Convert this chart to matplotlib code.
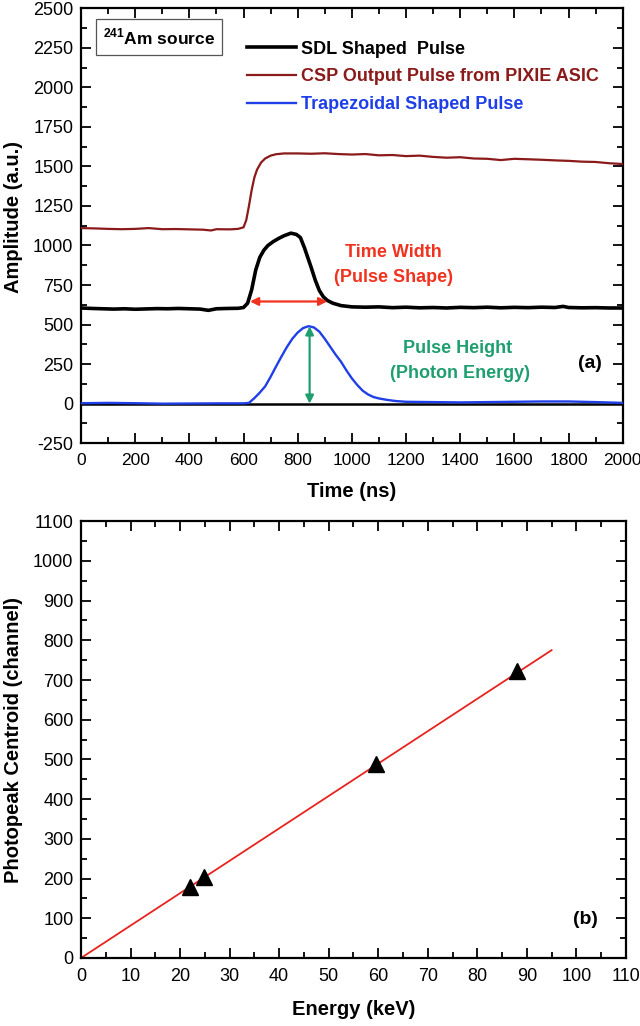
import numpy as np
import matplotlib
matplotlib.use("Agg")
import matplotlib.pyplot as plt
from matplotlib.lines import Line2D
from matplotlib.ticker import MultipleLocator

plt.rcParams["font.family"] = ["Liberation Sans", "DejaVu Sans"]
plt.rcParams["mathtext.fontset"] = "custom"
plt.rcParams["mathtext.rm"] = "Liberation Sans"
plt.rcParams["mathtext.bf"] = "Liberation Sans:bold"
plt.rcParams["axes.unicode_minus"] = False

# ~~~ panel (a): pulse traces ~~~
t_sdl = [0, 40, 80, 120, 160, 200, 240, 280, 320, 360, 400, 440, 470, 500, 540, 580,
         600, 615, 630, 645, 660, 675, 690, 710, 730, 750, 775, 795, 810, 825, 840, 850,
         865, 880, 895, 910, 930, 960, 1000, 1050, 1100, 1150, 1200, 1250, 1300, 1350,
         1400, 1450, 1500, 1550, 1600, 1650, 1700, 1750, 1780, 1800, 1850, 1900, 1950, 2000]
sdl = [605, 602, 600, 598, 600, 597, 599, 601, 600, 602, 600, 598, 590, 600, 602, 603,
       608, 635, 720, 845, 925, 970, 1000, 1025, 1045, 1062, 1078, 1070, 1050, 985, 910, 860,
       780, 715, 675, 652, 635, 620, 612, 610, 612, 607, 610, 606, 608, 605,
       609, 607, 610, 606, 609, 607, 610, 608, 615, 608, 606, 607, 605, 605]

t_csp = [0, 50, 100, 150, 200, 250, 300, 350, 400, 450, 480, 500, 550, 580, 600, 610,
         620, 630, 640, 650, 665, 680, 700, 720, 750, 800, 850, 900, 950, 1000, 1050,
         1100, 1150, 1200, 1250, 1300, 1350, 1400, 1450, 1500, 1550, 1600, 1650, 1700,
         1750, 1800, 1850, 1900, 1950, 2000]
csp = [1110, 1108, 1105, 1103, 1105, 1110, 1103, 1104, 1102, 1100, 1095, 1103, 1102, 1105, 1115, 1160,
       1250, 1350, 1430, 1480, 1525, 1550, 1568, 1577, 1582, 1582, 1580, 1583, 1578, 1575, 1578,
       1570, 1572, 1565, 1568, 1560, 1555, 1558, 1550, 1548, 1540, 1548, 1545, 1542,
       1538, 1535, 1530, 1528, 1520, 1515]

t_trap = [0, 100, 200, 300, 400, 500, 600, 620, 640, 660, 680, 700, 720, 740, 760, 780,
          800, 820, 840, 860, 880, 900, 920, 940, 960, 980, 1000, 1020, 1040, 1060, 1080,
          1100, 1130, 1160, 1200, 1300, 1400, 1500, 1600, 1700, 1800, 1900, 2000]
trap = [3, 5, 3, 0, 1, 2, 2, 5, 35, 70, 110, 170, 235, 298, 358, 410,
        450, 478, 490, 482, 455, 410, 360, 310, 265, 210, 160, 118, 82, 58, 42,
        33, 24, 17, 12, 10, 8, 10, 12, 14, 14, 10, 5]

width_span = [624, 909]     # ns, time-width arrow
width_level = 646
height_time = 844           # ns, pulse-height arrow
height_peak = 489

# ~~~ panel (b): energy calibration ~~~
energy = [22.0, 24.9, 59.5, 88.0]
centroid = [180, 205, 488, 722]
fit_slope = 8.16
fit_intercept = 0.0
fit_range = [0, 95]

dark_red = "#8b1a1a"
blue = "#1f3fe8"
arrow_red = "#f0321e"
green = "#1f9e70"

fig = plt.figure(figsize=(6.4, 10.26), dpi=100)
ax1 = fig.add_axes([0.1266, 0.568, 0.8464, 0.424])
ax2 = fig.add_axes([0.1266, 0.0663, 0.8514, 0.4257])


def style_axes(ax):
    for spine in ax.spines.values():
        spine.set_linewidth(1.6)
    ax.tick_params(which="both", direction="in", top=True, right=True,
                   labelsize=13, width=1.3)
    ax.tick_params(which="major", length=7)
    ax.tick_params(which="minor", length=4)
    ax.tick_params(axis="x", pad=7)
    ax.tick_params(axis="y", pad=5.5)


# fig a
ax1.axhline(0, color="black", lw=1.8, zorder=1)
ax1.plot(t_csp, csp, color=dark_red, lw=1.6, zorder=3)
ax1.plot(t_sdl, sdl, color="black", lw=2.6, zorder=4)
ax1.plot(t_trap, trap, color=blue, lw=1.7, zorder=3)

ax1.annotate("", xy=(width_span[0], width_level), xytext=(width_span[1], width_level),
             arrowprops=dict(arrowstyle="<|-|>", color=arrow_red, lw=1.6,
                             mutation_scale=12, shrinkA=0, shrinkB=0), zorder=5)
ax1.annotate("", xy=(height_time, 0), xytext=(height_time, height_peak),
             arrowprops=dict(arrowstyle="<|-|>", color=green, lw=1.6,
                             mutation_scale=12, shrinkA=0, shrinkB=0), zorder=5)

ax1.text(1155, 956, "Time Width", color=arrow_red, fontsize=13, fontweight="bold",
         ha="center", va="center")
ax1.text(1155, 797, "(Pulse Shape)", color=arrow_red, fontsize=13, fontweight="bold",
         ha="center", va="center")
ax1.text(1390, 348, "Pulse Height", color=green, fontsize=13, fontweight="bold",
         ha="center", va="center")
ax1.text(1400, 190, "(Photon Energy)", color=green, fontsize=13, fontweight="bold",
         ha="center", va="center")
ax1.text(1880, 253, "(a)", fontsize=14, fontweight="bold", ha="center", va="center")

ax1.text(0.144, 0.934, r"$^{\mathbf{241}}$Am source", transform=ax1.transAxes,
         fontsize=12.5, fontweight="bold", ha="center", va="center",
         bbox=dict(boxstyle="square,pad=0.42", fc="white", ec="#555555", lw=0.9))

handles = [Line2D([], [], color="black", lw=2.6),
           Line2D([], [], color=dark_red, lw=1.6),
           Line2D([], [], color=blue, lw=1.7)]
labels = ["SDL Shaped  Pulse", "CSP Output Pulse from PIXIE ASIC", "Trapezoidal Shaped Pulse"]
leg = ax1.legend(handles, labels, loc="upper left", bbox_to_anchor=(0.276, 0.963),
                 frameon=False, handlelength=2.7, handletextpad=0.33, labelspacing=0.6,
                 prop={"weight": "bold", "size": 13})
for txt, c in zip(leg.get_texts(), ["black", dark_red, blue]):
    txt.set_color(c)

ax1.set_xlim(0, 2000)
ax1.set_ylim(-250, 2500)
ax1.xaxis.set_major_locator(MultipleLocator(200))
ax1.xaxis.set_minor_locator(MultipleLocator(100))
ax1.yaxis.set_major_locator(MultipleLocator(250))
ax1.yaxis.set_minor_locator(MultipleLocator(125))
style_axes(ax1)
ax1.tick_params(axis="x", labelsize=12.5)
ax1.set_xlabel("Time (ns)", fontsize=14.5, fontweight="bold", labelpad=10)
ax1.set_ylabel("Amplitude (a.u.)", fontsize=14.5, fontweight="bold")
ax1.yaxis.set_label_coords(-0.107, 0.52)

# fig b
fit_x = np.array(fit_range)
ax2.plot(fit_x, fit_slope * fit_x + fit_intercept, color="#e8231e", lw=1.3, zorder=2)
ax2.plot(energy, centroid, linestyle="none", marker="^", color="black",
         markersize=11, zorder=3)
ax2.text(101.8, 98, "(b)", fontsize=14, fontweight="bold", ha="center", va="center")

ax2.set_xlim(0, 110)
ax2.set_ylim(0, 1100)
ax2.xaxis.set_major_locator(MultipleLocator(10))
ax2.xaxis.set_minor_locator(MultipleLocator(5))
ax2.yaxis.set_major_locator(MultipleLocator(100))
ax2.yaxis.set_minor_locator(MultipleLocator(50))
style_axes(ax2)
ax2.set_xlabel("Energy (keV)", fontsize=14.5, fontweight="bold", labelpad=11)
ax2.set_ylabel("Photopeak Centroid (channel)", fontsize=14.5, fontweight="bold")
ax2.yaxis.set_label_coords(-0.106, 0.5)

fig.savefig("out.png", dpi=100)
